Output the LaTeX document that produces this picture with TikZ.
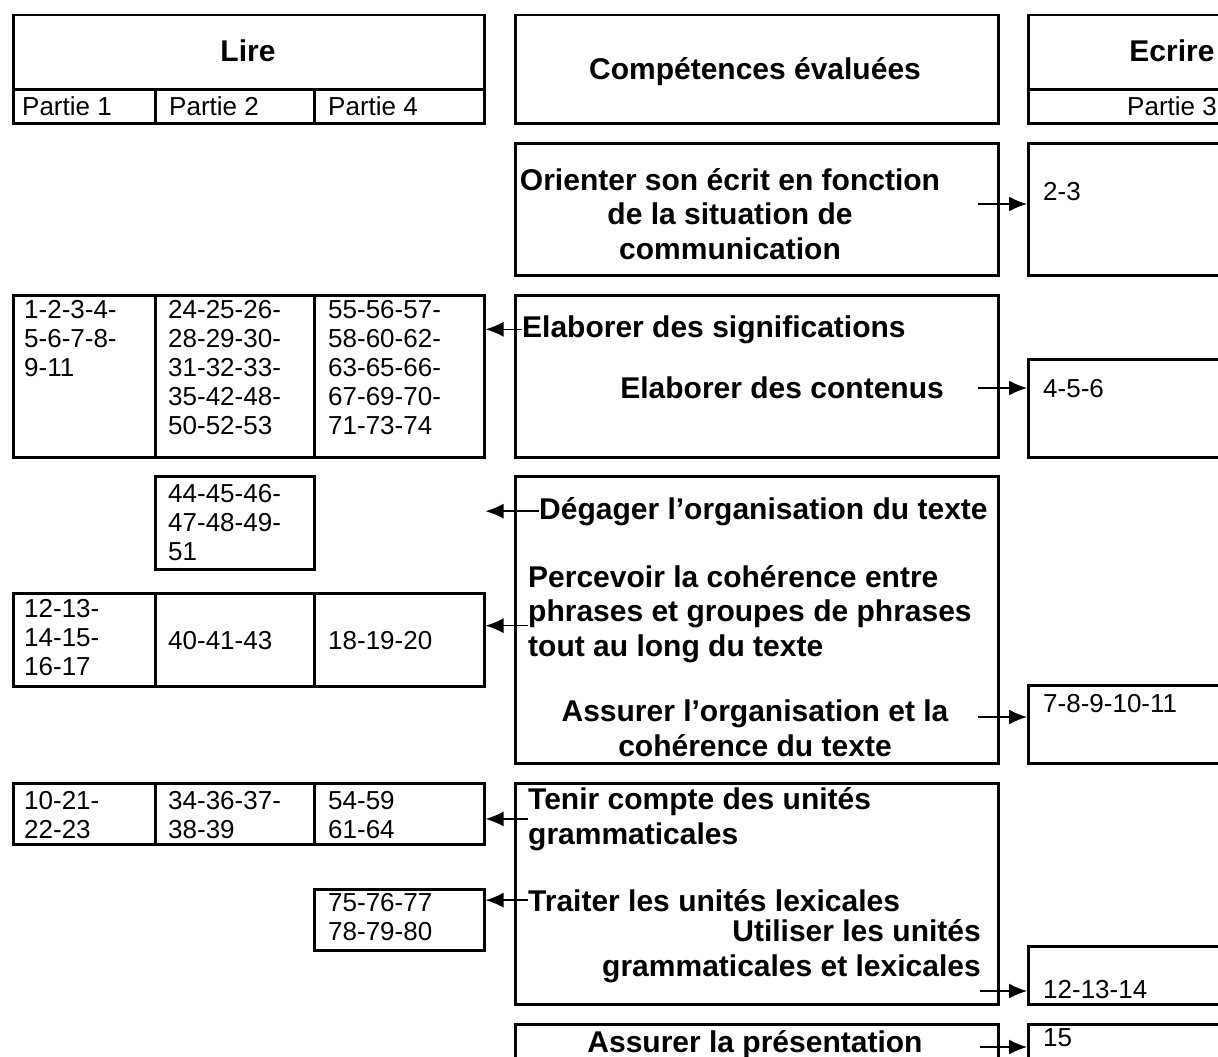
\documentclass[tikz,border=0pt]{standalone}
\usepackage{fontspec}
\setmainfont{Liberation Sans}
\usetikzlibrary{arrows.meta}

\tikzset{
  cell/.style={draw, line width=2.5pt, anchor=north west, inner sep=0pt},
  num/.style={font=\fontsize{26}{29}\selectfont, inner sep=0pt, align=left, anchor=base west},
  comp/.style={font=\fontsize{30}{34.5}\selectfont\bfseries, inner sep=0pt},
  arr/.style={line width=1.6pt, -{Latex[length=18pt,width=15pt]}}
}

\begin{document}
\begin{tikzpicture}[x=1pt,y=-1pt]
\useasboundingbox (0,0) rectangle (1218,1057);
\clip (0,0) rectangle (1218,1057);

% en-tetes
\node[cell, minimum width=471pt, minimum height=74pt] (lire) at (12,14) {};
\node[cell, minimum width=142pt, minimum height=34pt] (p1) at (12,88) {};
\node[cell, minimum width=159pt, minimum height=34pt] (p2) at (154,88) {};
\node[cell, minimum width=170pt, minimum height=34pt] (p4) at (313,88) {};
\node[cell, minimum width=483pt, minimum height=108pt] (comp) at (514,14) {};
\node[cell, minimum width=300pt, minimum height=74pt] (ecrire) at (1027,14) {};
\node[cell, minimum width=300pt, minimum height=34pt] (p3) at (1027,88) {};
\node[comp, anchor=base] (tlire) at (248,62) {Lire};
\node[num] (tp1) at (22,115) {Partie 1};
\node[num] (tp2) at (169,115) {Partie 2};
\node[num] (tp4) at (328,115) {Partie 4};
\node[comp, anchor=base] (tcomp) at (755,79) {Compétences évaluées};
\node[comp, anchor=base] (tecrire) at (1172,62) {Ecrire};
\node[num, anchor=base] (tp3) at (1172,115) {Partie 3};

% orienter
\node[cell, minimum width=483pt, minimum height=132pt] (orient) at (514,142) {};
\node[cell, minimum width=300pt, minimum height=132pt] (e1) at (1027,142) {};
\node[comp, align=center, anchor=base] (torient) at (730,259) {Orienter son écrit en fonction\\de la situation de\\communication};
\node[num] (t23) at (1043,200) {2-3};
\coordinate (o1) at (978,204);
\draw[arr] (o1) -- (o1 -| e1.west);

% elaborer
\node[cell, minimum width=142pt, minimum height=162pt] (l2a) at (12,294) {};
\node[cell, minimum width=159pt, minimum height=162pt] (l2b) at (154,294) {};
\node[cell, minimum width=170pt, minimum height=162pt] (l2c) at (313,294) {};
\node[cell, minimum width=483pt, minimum height=162pt] (elab) at (514,294) {};
\node[cell, minimum width=300pt, minimum height=98pt] (e2) at (1027,358) {};
\node[num] (t2a) at (24,376) {1-2-3-4-\\5-6-7-8-\\9-11};
\node[num] (t2b) at (168,434) {24-25-26-\\28-29-30-\\31-32-33-\\35-42-48-\\50-52-53};
\node[num] (t2c) at (328,434) {55-56-57-\\58-60-62-\\63-65-66-\\67-69-70-\\71-73-74};
\node[comp, anchor=base west] (tsignif) at (522,337) {Elaborer des significations};
\node[comp, anchor=base east] (tcont) at (944,398) {Elaborer des contenus};
\node[num] (t456) at (1043,397) {4-5-6};
\draw[arr] (tsignif.west) -- (tsignif.west -| l2c.east);
\coordinate (o2) at (978,388);
\draw[arr] (o2) -- (o2 -| e2.west);

% organisation
\node[cell, minimum width=159pt, minimum height=93pt] (l3x) at (154,475) {};
\node[cell, minimum width=483pt, minimum height=287pt] (orga) at (514,475) {};
\node[cell, minimum width=142pt, minimum height=93pt] (l3a) at (12,592) {};
\node[cell, minimum width=159pt, minimum height=93pt] (l3b) at (154,592) {};
\node[cell, minimum width=170pt, minimum height=93pt] (l3c) at (313,592) {};
\node[cell, minimum width=300pt, minimum height=78pt] (e3) at (1027,684) {};
\node[num] (t3x) at (168,560) {44-45-46-\\47-48-49-\\51};
\node[comp, anchor=base west] (tdeg) at (539,519) {Dégager l’organisation du texte};
\node[comp, align=left, anchor=base west] (tperc) at (528,656) {Percevoir la cohérence entre\\phrases et groupes de phrases\\tout au long du texte};
\node[num] (t3a) at (24,675) {12-13-\\14-15-\\16-17};
\node[num] (t3b) at (168,649) {40-41-43};
\node[num] (t3c) at (328,649) {18-19-20};
\node[comp, align=center, anchor=base] (tassur) at (755,756) {Assurer l’organisation et la\\cohérence du texte};
\node[num] (t711) at (1043,712) {7-8-9-10-11};
\draw[arr] (tdeg.west) -- (tdeg.west -| l3c.east);
\draw[arr] ([yshift=-12pt]tperc.west) -- ([yshift=-12pt]tperc.west -| l3c.east);
\coordinate (o3) at (978,717);
\draw[arr] (o3) -- (o3 -| e3.west);

% unites
\node[cell, minimum width=142pt, minimum height=61pt] (l4a) at (12,782) {};
\node[cell, minimum width=159pt, minimum height=61pt] (l4b) at (154,782) {};
\node[cell, minimum width=170pt, minimum height=61pt] (l4c) at (313,782) {};
\node[cell, minimum width=483pt, minimum height=221pt] (gram) at (514,782) {};
\node[cell, minimum width=170pt, minimum height=61pt] (l5) at (313,888) {};
\node[cell, minimum width=300pt, minimum height=58pt] (e4) at (1027,945) {};
\node[num] (t4a) at (24,838) {10-21-\\22-23};
\node[num] (t4b) at (168,838) {34-36-37-\\38-39};
\node[num] (t4c) at (328,838) {54-59\\61-64};
\node[comp, align=left, anchor=base west] (ttenir) at (528,844) {Tenir compte des unités\\grammaticales};
\node[comp, anchor=base west] (ttrait) at (528,911) {Traiter les unités lexicales};
\node[num] (t5) at (328,940) {75-76-77\\78-79-80};
\node[comp, align=right, anchor=base east] (tutil) at (981,976) {Utiliser les unités\\grammaticales et lexicales};
\node[num] (t1214) at (1043,998) {12-13-14};
\draw[arr] (ttenir.west) -- (ttenir.west -| l4c.east);
\draw[arr] (ttrait.west) -- (ttrait.west -| l5.east);
\coordinate (o4) at (980,991);
\draw[arr] (o4) -- (o4 -| e4.west);

% presentation
\node[cell, minimum width=483pt, minimum height=80pt] (pres) at (514,1023) {};
\node[cell, minimum width=300pt, minimum height=80pt] (e5) at (1027,1023) {};
\node[comp, anchor=base] (tpres) at (755,1052) {Assurer la présentation};
\node[num] (t15) at (1043,1046) {15};
\coordinate (o5) at (980,1047);
\draw[arr] (o5) -- (o5 -| e5.west);

\end{tikzpicture}
\end{document}
